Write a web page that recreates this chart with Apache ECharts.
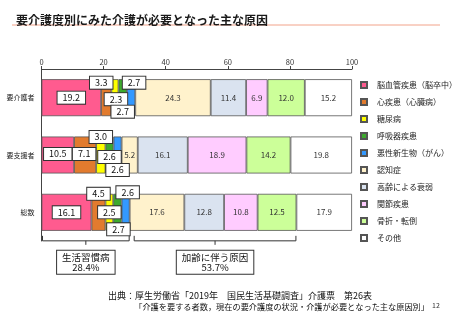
<!DOCTYPE html>
<html><head><meta charset="utf-8">
<script src="https://cdn.jsdelivr.net/npm/echarts@6/dist/echarts.min.js"></script>
<style>html,body{margin:0;padding:0;background:#fff}#c{width:453px;height:320px}</style>
</head><body><div id="c"></div>
<script>
// ---- data ----
const categories = ['要介護者', '要支援者', '総数'];
const causes = ['脳血管疾患（脳卒中）', '心疾患（心臓病）', '糖尿病', '呼吸器疾患', '悪性新生物（がん）', '認知症', '高齢による衰弱', '関節疾患', '骨折・転倒', 'その他'];
const cerebrovascular = [19.2, 10.5, 16.1];
const heartDisease = [3.3, 7.1, 4.5];
const diabetes = [2.3, 3.0, 2.5];
const respiratory = [2.7, 2.6, 2.7];
const cancer = [2.7, 2.6, 2.6];
const dementia = [24.3, 5.2, 17.6];
const frailty = [11.4, 16.1, 12.8];
const jointDisease = [6.9, 18.9, 10.8];
const fracture = [12.0, 14.2, 12.5];
const other = [15.2, 19.8, 17.9];
const xTicks = [0, 20, 40, 60, 80, 100];
const groupNames = ['生活習慣病', '加齢に伴う原因'];
const groupMembers = [[0, 1, 2, 3, 4], [5, 6, 7, 8]];
const sourceLine1 = '出典：厚生労働省「2019年　国民生活基礎調査」介護票　第26表';
const sourceLine2 = '「介護を要する者数，現在の要介護度の状況・介護が必要となった主な原因別」';
const pageNo = '12';

const seriesValues = [cerebrovascular, heartDisease, diabetes, respiratory, cancer, dementia, frailty, jointDisease, fracture, other];

// ---- styles ----
const colors = ['#FF5B8F', '#E27B2E', '#FFFF00', '#3DAA2E', '#3399FF', '#FFF2CC', '#DAE3F0', '#FFCCFF', '#CCFF99', '#FFFFFF'];
const boxedSeries = 5;
const labelOffsets = {
  0: [[0, 0], [0, -1], [0, 0]],
  1: [[-5, -15], [-1, -1], [0, -18.5]],
  2: [[1, 1.5], [0, -18], [0, 0]],
  3: [[0, 14], [0, 2], [1, 17]],
  4: [[3, -15], [0, 15], [2, -20]]
};
const JP = '"Noto Sans CJK JP", "Noto Sans", sans-serif';

const chart = echarts.init(document.getElementById('c'), null, { renderer: 'canvas' });

const series = seriesValues.map((vals, si) => ({
  name: causes[si],
  type: 'bar',
  stack: 'total',
  barWidth: 37,
  itemStyle: { color: colors[si], borderColor: '#555', borderWidth: 0.8 },
  data: vals.map((v, ci) => {
    const item = { value: v };
    if (si < boxedSeries) {
      item.label = {
        show: true, position: 'inside', offset: labelOffsets[si][ci],
        formatter: (p) => p.value.toFixed(1),
        fontSize: 9, lineHeight: 10, color: '#111', fontFamily: JP,
        backgroundColor: '#fff', borderColor: '#333', borderWidth: 1, padding: [1, 5]
      };
    } else {
      item.label = {
        show: true, position: 'inside',
        formatter: (p) => p.value.toFixed(1),
        fontSize: 8, color: '#333', fontFamily: JP
      };
    }
    return item;
  })
}));

chart.setOption({
  animation: false,
  backgroundColor: '#fff',
  textStyle: { fontFamily: JP },
  title: {
    text: '要介護度別にみた介護が必要となった主な原因',
    left: 11, top: 9,
    textStyle: { fontSize: 12, fontWeight: 'bold', color: '#1a1a1a', fontFamily: JP }
  },
  grid: { left: 41.5, right: 101, top: 69, bottom: 79, containLabel: false },
  xAxis: {
    type: 'value', position: 'top', min: xTicks[0], max: xTicks[xTicks.length - 1], interval: xTicks[1] - xTicks[0],
    axisLine: { show: true, lineStyle: { color: '#444', width: 1 } },
    axisTick: { show: true, length: 3, lineStyle: { color: '#444' } },
    axisLabel: { fontSize: 7.5, color: '#333', margin: 3 },
    splitLine: { show: false }
  },
  yAxis: {
    type: 'category', data: categories, inverse: true,
    axisLine: { show: true, lineStyle: { color: '#444', width: 1 } },
    axisTick: { show: false },
    axisLabel: { fontSize: 7, color: '#222', margin: 7 }
  },
  legend: {
    orient: 'vertical', left: 355, top: 75,
    itemWidth: 6, itemHeight: 6, itemGap: 7,
    icon: 'rect',
    textStyle: { fontSize: 8, lineHeight: 10, color: '#222', padding: [0, 0, 0, 5] },
    data: causes
  },
  series: series
});

// brackets & group boxes computed from data through the axes
function drawAnnotations() {
  const totalIdx = categories.length - 1;
  const center = chart.convertToPixel({ gridIndex: 0 }, [0, totalIdx]);
  const barBottom = center[1] + 37 / 2;
  const topY = barBottom + 5, hY = barBottom + 10;
  const graphics = [];
  let start = 0;
  groupMembers.forEach((members, gi) => {
    let sum = 0;
    members.forEach(m => { sum += seriesValues[m][totalIdx]; });
    const end = start + sum;
    const x1 = chart.convertToPixel({ gridIndex: 0 }, [start, totalIdx])[0] + (gi === 0 ? 1 : 4.5);
    const x2 = chart.convertToPixel({ gridIndex: 0 }, [end, totalIdx])[0] - 0.5;
    const mid = (x1 + x2) / 2;
    graphics.push({
      type: 'polyline', shape: { points: [[x1, topY], [x1, hY], [x2, hY], [x2, topY]] },
      style: { stroke: '#333', lineWidth: 1, fill: null }
    });
    graphics.push({
      type: 'line', shape: { x1: mid, y1: hY, x2: mid, y2: hY + 4 },
      style: { stroke: '#333', lineWidth: 1 }
    });
    graphics.push({
      type: 'text', x: mid, y: hY + 10,
      style: {
        text: groupNames[gi] + '\n' + (Math.round(sum * 10) / 10).toFixed(1) + '%',
        align: 'center', verticalAlign: 'top', fontSize: 9.5, lineHeight: 10.5,
        fontFamily: JP, fill: '#111', backgroundColor: '#fff',
        borderColor: '#333', borderWidth: 1, padding: [1, 5]
      }
    });
    start = end;
  });
  // title underline
  graphics.push({
    type: 'line', shape: { x1: 12, y1: 25, x2: 440, y2: 25 },
    style: { stroke: '#F2A38A', lineWidth: 1 }
  });
  graphics.push({
    type: 'text', x: 108, y: 296,
    style: { text: sourceLine1, fontSize: 9, fontFamily: JP, fill: '#111', verticalAlign: 'middle' }
  });
  graphics.push({
    type: 'text', x: 429, y: 307,
    style: { text: sourceLine2, fontSize: 8.2, fontFamily: JP, fill: '#111', align: 'right', verticalAlign: 'middle' }
  });
  graphics.push({
    type: 'text', x: 432, y: 305,
    style: { text: pageNo, fontSize: 7, fontFamily: JP, fill: '#333', verticalAlign: 'middle' }
  });
  chart.setOption({ graphic: graphics });
}
drawAnnotations();
</script>
</body></html>
